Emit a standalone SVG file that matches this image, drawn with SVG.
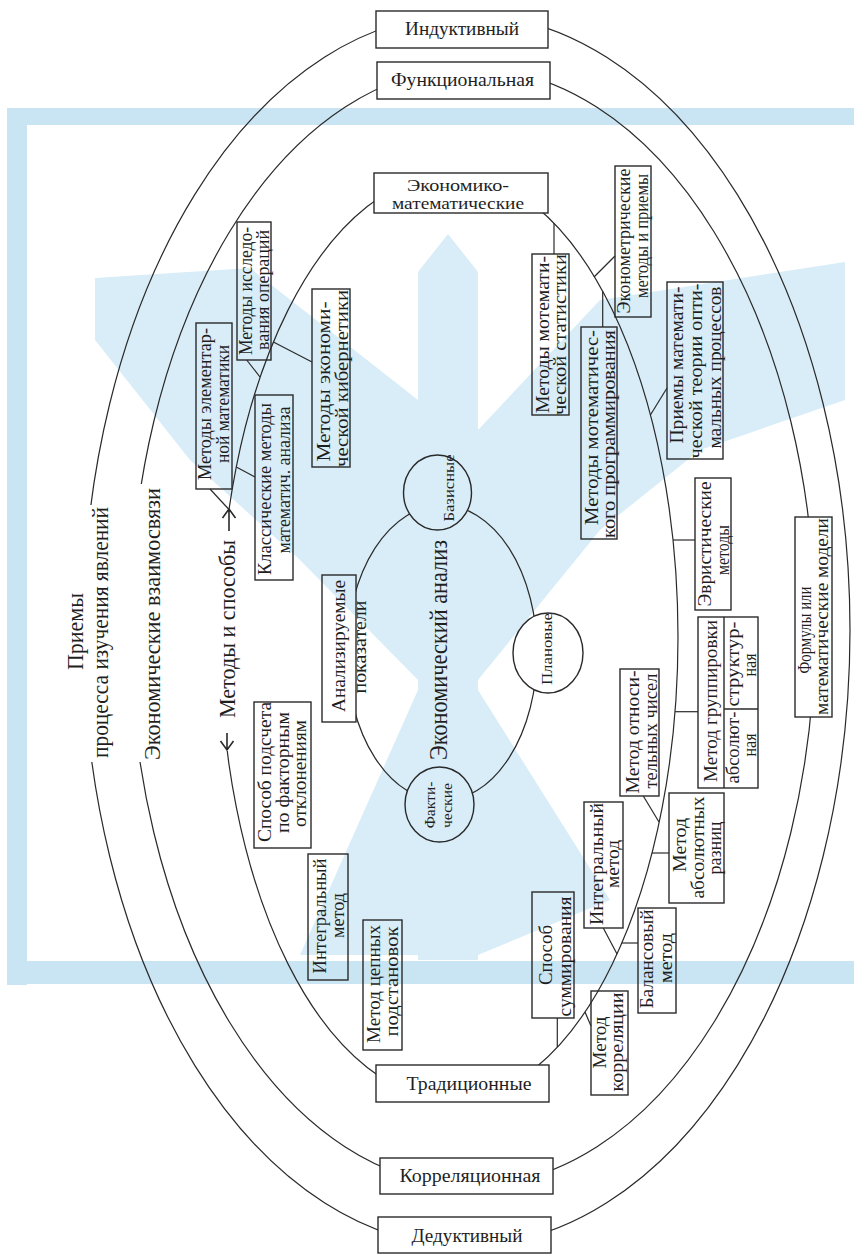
<svg xmlns="http://www.w3.org/2000/svg" width="854" height="1255" viewBox="0 0 854 1255">
<style>
.t{fill:#1f1f1f;font-family:'Liberation Serif',serif;}
.h{font-size:19px;}
.h2{font-size:16.5px;}
.v{font-size:18.5px;}
.b{font-size:24px;}
.s{font-size:15px;}
.box{fill:none;stroke:#2a2a2a;stroke-width:1.4;}
.ln{fill:none;stroke:#2a2a2a;stroke-width:1.2;}
.wb{fill:#c9e4f2;}
.wl{fill:#d8edf8;}
</style>
<defs>
<mask id="gap" maskUnits="userSpaceOnUse" x="0" y="0" width="854" height="1255">
<rect x="0" y="0" width="854" height="1255" fill="#fff"/>
<g fill="#000">
<rect x="376" y="11" width="172" height="37"/>
<rect x="377" y="62" width="173" height="37"/>
<rect x="374" y="173" width="174" height="40"/>
<rect x="376" y="1065" width="173" height="37"/>
<rect x="380" y="1158" width="173" height="36"/>
<rect x="378" y="1217" width="173" height="36"/>
<rect x="795" y="517" width="37" height="200"/>
<rect x="322" y="575" width="34" height="147"/>
<ellipse cx="437.5" cy="492.5" rx="34" ry="37.5"/>
<ellipse cx="548" cy="653" rx="35" ry="40"/>
<ellipse cx="439.5" cy="804.5" rx="34.5" ry="37.5"/>
<rect x="60" y="505" width="60" height="257"/>
<rect x="128" y="484" width="45" height="278"/>
<rect x="212" y="509" width="30" height="242"/>
</g>
</mask>
</defs>
<rect x="0" y="0" width="854" height="1255" fill="#fff"/>
<g id="watermark">
<rect class="wb" x="7" y="108" width="847" height="17"/>
<rect class="wb" x="7" y="108" width="20" height="877"/>
<rect class="wb" x="7" y="961" width="847" height="23"/>
<polygon class="wl" points="418,272 448,234 478,272 478,960 418,960"/>
<polygon class="wl" points="95,278 250,268 418,400 418,680 300,560 190,460 95,340"/>
<polygon class="wl" points="845,262 845,400 700,450 600,530 478,680 478,430 600,300"/>
<polygon class="wl" points="418,690 418,955 300,955"/>
<polygon class="wl" points="478,690 478,955 610,900"/>
</g>
<g id="connectors">
<g id="rings" class="ln" mask="url(#gap)">
<path id="ring-outer" d="M465,14 A385,616 0 0 1 850,630 A385,616 0 0 1 465,1246 A382,616 0 0 1 83,630 A382,616 0 0 1 465,14 Z"/>
<path id="ring-middle" d="M470,68 A345,559 0 0 1 815,627 A345,559 0 0 1 470,1186 A340,559 0 0 1 130,627 A340,559 0 0 1 470,68 Z"/>
<path id="ring-inner" d="M453,174 A225,463 0 0 1 678,637 A225,463 0 0 1 453,1100 A233,463 0 0 1 220,637 A233,463 0 0 1 453,174 Z"/>
<ellipse id="ring-core" cx="442" cy="653" rx="95" ry="148"/>
</g>
<g id="links" class="ln">
<line x1="246.7" y1="360" x2="260" y2="377"/>
<line x1="273.4" y1="342" x2="312" y2="362"/>
<line x1="210" y1="489" x2="228.5" y2="509"/>
<line x1="236.3" y1="467" x2="255" y2="477"/>
<line x1="594" y1="277" x2="615" y2="256"/>
<line x1="554" y1="223.3" x2="554" y2="254"/>
<line x1="602.7" y1="291.3" x2="602.7" y2="327"/>
<line x1="650.4" y1="415" x2="667" y2="388"/>
<line x1="673" y1="540" x2="695" y2="540"/>
<line x1="675" y1="711.7" x2="698" y2="711.7"/>
<line x1="643.3" y1="796" x2="659" y2="822"/>
<line x1="652" y1="853" x2="669" y2="853"/>
<line x1="603.3" y1="928" x2="617" y2="954"/>
<line x1="621.8" y1="943" x2="638" y2="943"/>
<line x1="557.3" y1="1018" x2="557.3" y2="1047"/>
<line x1="585" y1="1012" x2="591" y2="1026"/>
<path d="M229,531 L229,509 M222.5,518 L229,509 L235.5,518" stroke-width="1.6"/>
<path d="M227,733 L227,750 M220.5,741 L227,750 L233.5,741" stroke-width="1.6"/>
</g>
</g>
<g id="nodes" font-family="Liberation Serif, serif">
<g id="n-induktivny"><rect class="box" x="376" y="11" width="172" height="37"/><text class="t h" x="462" y="28.5" text-anchor="middle" dominant-baseline="central" textLength="114" lengthAdjust="spacingAndGlyphs">Индуктивный</text></g>
<g id="n-funkcionalnaya"><rect class="box" x="377" y="62" width="173" height="37"/><text class="t h" x="462.5" y="79.5" text-anchor="middle" dominant-baseline="central" textLength="143" lengthAdjust="spacingAndGlyphs">Функциональная</text></g>
<g id="n-ekonomiko"><rect class="box" x="374" y="173" width="174" height="40"/><text class="t h2" x="458" y="185.5" text-anchor="middle" dominant-baseline="central" textLength="102" lengthAdjust="spacingAndGlyphs">Экономико-</text><text class="t h2" x="458" y="203" text-anchor="middle" dominant-baseline="central" textLength="132" lengthAdjust="spacingAndGlyphs">математические</text></g>
<g id="n-tradicionnye"><rect class="box" x="376" y="1065" width="173" height="37"/><text class="t h" x="469" y="1083.5" text-anchor="middle" dominant-baseline="central" textLength="125" lengthAdjust="spacingAndGlyphs">Традиционные</text></g>
<g id="n-korrelyacionnaya"><rect class="box" x="380" y="1158" width="173" height="36"/><text class="t h" x="470" y="1175" text-anchor="middle" dominant-baseline="central" textLength="141" lengthAdjust="spacingAndGlyphs">Корреляционная</text></g>
<g id="n-deduktivny"><rect class="box" x="378" y="1217" width="173" height="36"/><text class="t h" x="467" y="1235" text-anchor="middle" dominant-baseline="central" textLength="111" lengthAdjust="spacingAndGlyphs">Дедуктивный</text></g>

<g id="n-priemy-label"><text class="t b" transform="translate(75,631.5) rotate(-90)" text-anchor="middle" dominant-baseline="central" textLength="77" lengthAdjust="spacingAndGlyphs">Приемы</text><text class="t b" transform="translate(100,632.5) rotate(-90)" text-anchor="middle" dominant-baseline="central" textLength="251" lengthAdjust="spacingAndGlyphs">процесса изучения явлений</text></g>
<g id="n-vzaimosvyazi-label"><text class="t b" transform="translate(152,624) rotate(-90)" text-anchor="middle" dominant-baseline="central" textLength="272" lengthAdjust="spacingAndGlyphs">Экономические взаимосвязи</text></g>
<g id="n-metody-label"><text class="t b" transform="translate(227,629) rotate(-90)" text-anchor="middle" dominant-baseline="central" textLength="178" lengthAdjust="spacingAndGlyphs">Методы и способы</text></g>

<g id="n-issled"><rect class="box" x="237" y="222" width="34" height="138"/><text class="t v" transform="translate(246,291) rotate(-90)" text-anchor="middle" dominant-baseline="central" textLength="128" lengthAdjust="spacingAndGlyphs">Методы исследо-</text><text class="t v" transform="translate(262.5,290) rotate(-90)" text-anchor="middle" dominant-baseline="central" textLength="120" lengthAdjust="spacingAndGlyphs">вания операций</text></g>
<g id="n-elem"><rect class="box" x="196" y="323" width="36" height="166"/><text class="t v" transform="translate(205,404) rotate(-90)" text-anchor="middle" dominant-baseline="central" textLength="152" lengthAdjust="spacingAndGlyphs">Методы элементар-</text><text class="t v" transform="translate(222.5,404) rotate(-90)" text-anchor="middle" dominant-baseline="central" textLength="118" lengthAdjust="spacingAndGlyphs">ной математики</text></g>
<g id="n-kibern"><rect class="box" x="312" y="289" width="38" height="178"/><text class="t v" transform="translate(324,381.5) rotate(-90)" text-anchor="middle" dominant-baseline="central" textLength="160" lengthAdjust="spacingAndGlyphs">Методы экономи-</text><text class="t v" transform="translate(341.5,378.5) rotate(-90)" text-anchor="middle" dominant-baseline="central" textLength="177" lengthAdjust="spacingAndGlyphs">ческой кибернетики</text></g>
<g id="n-klass"><rect class="box" x="255" y="395" width="38" height="185"/><text class="t v" transform="translate(265,489) rotate(-90)" text-anchor="middle" dominant-baseline="central" textLength="172" lengthAdjust="spacingAndGlyphs">Классические методы</text><text class="t v" transform="translate(283.5,480) rotate(-90)" text-anchor="middle" dominant-baseline="central" textLength="147" lengthAdjust="spacingAndGlyphs">математич. анализа</text></g>
<g id="n-analiz-pok"><rect class="box" x="322" y="575" width="34" height="147"/><text class="t v" transform="translate(339,646) rotate(-90)" text-anchor="middle" dominant-baseline="central" textLength="132" lengthAdjust="spacingAndGlyphs">Анализируемые</text><text class="t v" transform="translate(359.5,647) rotate(-90)" text-anchor="middle" dominant-baseline="central" textLength="93" lengthAdjust="spacingAndGlyphs">показатели</text></g>
<g id="n-ek-analiz"><text class="t" style="font-size:25px" transform="translate(438.5,650) rotate(-90)" text-anchor="middle" dominant-baseline="central" textLength="220" lengthAdjust="spacingAndGlyphs">Экономический анализ</text></g>
<g id="n-bazisnye"><ellipse class="box" cx="437.5" cy="492.5" rx="34" ry="37.5"/><text class="t s" transform="translate(448.5,488) rotate(-90)" text-anchor="middle" dominant-baseline="central" textLength="67" lengthAdjust="spacingAndGlyphs">Базисные</text></g>
<g id="n-planovye"><ellipse class="box" cx="548" cy="653" rx="35" ry="40"/><text class="t s" transform="translate(546.5,649) rotate(-90)" text-anchor="middle" dominant-baseline="central" textLength="72" lengthAdjust="spacingAndGlyphs">Плановые</text></g>
<g id="n-fakticheskie"><ellipse class="box" cx="439.5" cy="804.5" rx="34.5" ry="37.5"/><text class="t s" transform="translate(429.5,805) rotate(-90)" text-anchor="middle" dominant-baseline="central" textLength="47" lengthAdjust="spacingAndGlyphs">Факти-</text><text class="t s" transform="translate(446.5,805.5) rotate(-90)" text-anchor="middle" dominant-baseline="central" textLength="45" lengthAdjust="spacingAndGlyphs">ческие</text></g>
<g id="n-podschet"><rect class="box" x="254" y="702" width="57" height="146"/><text class="t v" transform="translate(265,772) rotate(-90)" text-anchor="middle" dominant-baseline="central" textLength="140" lengthAdjust="spacingAndGlyphs">Способ подсчета</text><text class="t v" transform="translate(283,772.5) rotate(-90)" text-anchor="middle" dominant-baseline="central" textLength="121" lengthAdjust="spacingAndGlyphs">по факторным</text><text class="t v" transform="translate(300,773.5) rotate(-90)" text-anchor="middle" dominant-baseline="central" textLength="107" lengthAdjust="spacingAndGlyphs">отклонениям</text></g>
<g id="n-integral-left"><rect class="box" x="308" y="854" width="40" height="126"/><text class="t v" transform="translate(320,916) rotate(-90)" text-anchor="middle" dominant-baseline="central" textLength="115" lengthAdjust="spacingAndGlyphs">Интегральный</text><text class="t v" transform="translate(337.5,915.5) rotate(-90)" text-anchor="middle" dominant-baseline="central" textLength="45" lengthAdjust="spacingAndGlyphs">метод</text></g>
<g id="n-cepnye"><rect class="box" x="363" y="920" width="39" height="130"/><text class="t v" transform="translate(373.5,984) rotate(-90)" text-anchor="middle" dominant-baseline="central" textLength="118" lengthAdjust="spacingAndGlyphs">Метод цепных</text><text class="t v" transform="translate(392,981.5) rotate(-90)" text-anchor="middle" dominant-baseline="central" textLength="110" lengthAdjust="spacingAndGlyphs">подстановок</text></g>

<g id="n-statistika"><rect class="box" x="532" y="254" width="37" height="161"/><text class="t v" transform="translate(542.5,334.5) rotate(-90)" text-anchor="middle" dominant-baseline="central" textLength="157" lengthAdjust="spacingAndGlyphs">Методы мотемати-</text><text class="t v" transform="translate(560,334.5) rotate(-90)" text-anchor="middle" dominant-baseline="central" textLength="161" lengthAdjust="spacingAndGlyphs">ческой статистики</text></g>
<g id="n-ekonometr"><rect class="box" x="615" y="166" width="36" height="151"/><text class="t v" transform="translate(624,241) rotate(-90)" text-anchor="middle" dominant-baseline="central" textLength="145" lengthAdjust="spacingAndGlyphs">Эконометрические</text><text class="t v" transform="translate(641.5,236) rotate(-90)" text-anchor="middle" dominant-baseline="central" textLength="124" lengthAdjust="spacingAndGlyphs">методы и приемы</text></g>
<g id="n-programm"><rect class="box" x="581" y="327" width="36" height="212"/><text class="t v" transform="translate(591.5,427.5) rotate(-90)" text-anchor="middle" dominant-baseline="central" textLength="195" lengthAdjust="spacingAndGlyphs">Методы мотематичес-</text><text class="t v" transform="translate(609,434) rotate(-90)" text-anchor="middle" dominant-baseline="central" textLength="208" lengthAdjust="spacingAndGlyphs">кого программирования</text></g>
<g id="n-optimal"><rect class="box" x="667" y="282" width="56" height="177"/><text class="t v" transform="translate(677,365) rotate(-90)" text-anchor="middle" dominant-baseline="central" textLength="157" lengthAdjust="spacingAndGlyphs">Приемы математи-</text><text class="t v" transform="translate(696,371) rotate(-90)" text-anchor="middle" dominant-baseline="central" textLength="175" lengthAdjust="spacingAndGlyphs">ческой теории опти-</text><text class="t v" transform="translate(715,367.5) rotate(-90)" text-anchor="middle" dominant-baseline="central" textLength="162" lengthAdjust="spacingAndGlyphs">мальных процессов</text></g>
<g id="n-evrist"><rect class="box" x="695" y="478" width="36" height="132"/><text class="t v" transform="translate(705,544) rotate(-90)" text-anchor="middle" dominant-baseline="central" textLength="125" lengthAdjust="spacingAndGlyphs">Эвристические</text><text class="t v" transform="translate(722.5,550) rotate(-90)" text-anchor="middle" dominant-baseline="central" textLength="50" lengthAdjust="spacingAndGlyphs">методы</text></g>
<g id="n-gruppirovka"><rect class="box" x="698" y="617" width="60" height="171"/><line class="box" x1="724" y1="617" x2="724" y2="788"/><line class="box" x1="724" y1="709" x2="758" y2="709"/><text class="t v" transform="translate(711,701) rotate(-90)" text-anchor="middle" dominant-baseline="central" textLength="162" lengthAdjust="spacingAndGlyphs">Метод группировки</text><text class="t v" transform="translate(733,664) rotate(-90)" text-anchor="middle" dominant-baseline="central" textLength="85" lengthAdjust="spacingAndGlyphs">структур-</text><text class="t v" transform="translate(749.5,665) rotate(-90)" text-anchor="middle" dominant-baseline="central" textLength="23" lengthAdjust="spacingAndGlyphs">ная</text><text class="t v" transform="translate(733,747.5) rotate(-90)" text-anchor="middle" dominant-baseline="central" textLength="72" lengthAdjust="spacingAndGlyphs">абсолют-</text><text class="t v" transform="translate(749.5,745) rotate(-90)" text-anchor="middle" dominant-baseline="central" textLength="23" lengthAdjust="spacingAndGlyphs">ная</text></g>
<g id="n-otnosit"><rect class="box" x="620" y="669" width="39" height="127"/><text class="t v" transform="translate(633,732) rotate(-90)" text-anchor="middle" dominant-baseline="central" textLength="123" lengthAdjust="spacingAndGlyphs">Метод относи-</text><text class="t v" transform="translate(651,731) rotate(-90)" text-anchor="middle" dominant-baseline="central" textLength="115" lengthAdjust="spacingAndGlyphs">тельных чисел</text></g>
<g id="n-absolut"><rect class="box" x="669" y="793" width="55" height="110"/><text class="t v" transform="translate(679.5,845) rotate(-90)" text-anchor="middle" dominant-baseline="central" textLength="54" lengthAdjust="spacingAndGlyphs">Метод</text><text class="t v" transform="translate(697.5,847.5) rotate(-90)" text-anchor="middle" dominant-baseline="central" textLength="102" lengthAdjust="spacingAndGlyphs">абсолютных</text><text class="t v" transform="translate(714.5,848) rotate(-90)" text-anchor="middle" dominant-baseline="central" textLength="53" lengthAdjust="spacingAndGlyphs">разниц</text></g>
<g id="n-integral-right"><rect class="box" x="584" y="802" width="39" height="126"/><text class="t v" transform="translate(596.5,864) rotate(-90)" text-anchor="middle" dominant-baseline="central" textLength="122" lengthAdjust="spacingAndGlyphs">Интегральный</text><text class="t v" transform="translate(613,864) rotate(-90)" text-anchor="middle" dominant-baseline="central" textLength="48" lengthAdjust="spacingAndGlyphs">метод</text></g>
<g id="n-balans"><rect class="box" x="638" y="908" width="38" height="105"/><text class="t v" transform="translate(646.5,959) rotate(-90)" text-anchor="middle" dominant-baseline="central" textLength="99" lengthAdjust="spacingAndGlyphs">Балансовый</text><text class="t v" transform="translate(666,958) rotate(-90)" text-anchor="middle" dominant-baseline="central" textLength="50" lengthAdjust="spacingAndGlyphs">метод</text></g>
<g id="n-summ"><rect class="box" x="532" y="892" width="42" height="126"/><text class="t v" transform="translate(546,955) rotate(-90)" text-anchor="middle" dominant-baseline="central" textLength="60" lengthAdjust="spacingAndGlyphs">Способ</text><text class="t v" transform="translate(564.5,956.5) rotate(-90)" text-anchor="middle" dominant-baseline="central" textLength="120" lengthAdjust="spacingAndGlyphs">суммирования</text></g>
<g id="n-korrel"><rect class="box" x="591" y="991" width="37" height="104"/><text class="t v" transform="translate(600,1042.5) rotate(-90)" text-anchor="middle" dominant-baseline="central" textLength="52" lengthAdjust="spacingAndGlyphs">Метод</text><text class="t v" transform="translate(616.5,1042) rotate(-90)" text-anchor="middle" dominant-baseline="central" textLength="99" lengthAdjust="spacingAndGlyphs">корреляции</text></g>
<g id="n-formuly"><rect class="box" x="795" y="517" width="37" height="200"/><text class="t v" transform="translate(805,630) rotate(-90)" text-anchor="middle" dominant-baseline="central" textLength="87" lengthAdjust="spacingAndGlyphs">Формулы или</text><text class="t v" transform="translate(821.5,616.5) rotate(-90)" text-anchor="middle" dominant-baseline="central" textLength="197" lengthAdjust="spacingAndGlyphs">математические модели</text></g>
</g>
</svg>
